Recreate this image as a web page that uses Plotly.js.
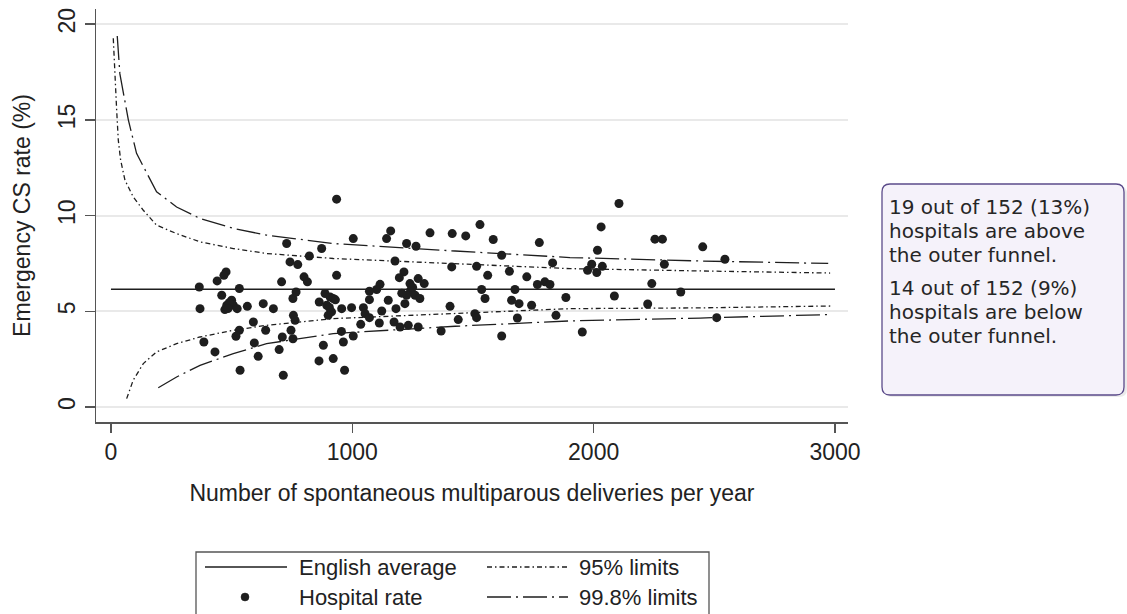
<!DOCTYPE html>
<html>
<head>
<meta charset="utf-8">
<script src="https://cdn.plot.ly/plotly-3.0.1.min.js"></script>
<style>
  html, body { margin: 0; padding: 0; background: #ffffff; }
  #chart { width: 1127px; height: 614px; }
</style>
</head>
<body>
<div id="chart"></div>
<script>
// ---------------- data ----------------
const hospitalX = [
  366, 369, 385, 431, 440, 477, 468, 459, 500, 480, 472, 507, 523, 532, 532, 518, 535, 565, 590, 594,
  610, 631, 641, 673, 697, 707, 710, 714, 728, 742, 774, 754, 767, 756, 763, 746, 754, 800, 814, 822,
  873, 863, 862, 880, 887, 908, 894, 900, 914, 921, 935, 935, 955, 921, 956,
  1004, 1159, 1142, 1225, 1264, 1177, 1214, 1195, 1273, 1239, 1115, 1101, 1071, 1242, 1225, 1260, 1280,
  1071, 1149, 1218, 997, 1046, 1122, 1181, 1053, 1071, 1112, 1035, 1173, 1198, 1232, 1273, 1004, 963, 968,
  1529, 1322, 1414, 1470, 1584, 1412, 1515, 1561, 1298, 1536, 1550, 1405, 1508, 1515, 1439, 1368,
  1775, 1619, 1830, 1651, 1723, 1767, 1798, 1819, 1674, 1660, 1691, 1743, 1885, 1684, 1844, 1619,
  2105, 2031, 2254, 2285, 2452, 2016, 2544, 2293, 1992, 2036, 1975, 2013, 2241, 2361, 2086, 2224, 2510, 1953,
  1250, 1205, 905, 930, 490, 485
];
const hospitalY = [
  6.27, 5.14, 3.40, 2.88, 6.59, 7.06, 6.88, 5.84, 5.58, 5.32, 5.09, 5.32, 5.14, 6.19, 4.01, 3.70, 1.92, 5.26, 4.44, 3.35,
  2.65, 5.40, 4.01, 5.14, 3.00, 6.54, 3.66, 1.66, 8.54, 7.58, 7.44, 5.67, 6.01, 4.79, 4.53, 4.01, 3.57, 6.80, 6.54, 7.89,
  8.28, 5.49, 2.41, 3.23, 5.93, 5.75, 5.32, 4.79, 4.97, 2.53, 10.86, 6.88, 3.95, 5.67, 5.14,
  8.80, 9.20, 8.80, 8.54, 8.40, 7.63, 7.06, 6.76, 6.71, 6.45, 6.41, 6.14, 6.05, 6.10, 5.84, 5.84, 5.67,
  5.61, 5.58, 5.40, 5.19, 5.19, 5.02, 5.14, 4.88, 4.67, 4.39, 4.32, 4.44, 4.18, 4.27, 4.18, 3.71, 3.40, 1.92,
  9.53, 9.10, 9.06, 8.94, 8.75, 7.32, 7.35, 6.88, 6.45, 6.14, 5.67, 5.26, 4.88, 4.67, 4.57, 3.97,
  8.59, 7.93, 7.53, 7.09, 6.80, 6.40, 6.54, 6.40, 6.14, 5.58, 5.40, 5.32, 5.72, 4.65, 4.79, 3.71,
  10.63, 9.41, 8.77, 8.77, 8.37, 8.19, 7.72, 7.46, 7.46, 7.35, 7.14, 7.03, 6.45, 6.01, 5.80, 5.38, 4.67, 3.92,
  6.25, 5.95, 5.20, 5.60, 5.45, 5.15
];

const averageX = [0, 3000];
const averageY = [6.15, 6.15];

const upper95X = [9.6, 16.6, 23.6, 30.4, 40, 58, 92, 134, 189, 272, 369, 507, 645, 921, 1426, 1902, 2441, 2980];
const upper95Y = [19.26, 16.9, 15.51, 13.94, 12.9, 11.85, 10.98, 10.28, 9.5, 9.06, 8.63, 8.28, 8.02, 7.76, 7.50, 7.23, 7.11, 7.0];
const lower95X = [65, 79, 92, 134, 189, 272, 369, 507, 645, 921, 1426, 1902, 2441, 2992];
const lower95Y = [0.44, 0.96, 1.4, 2.27, 2.88, 3.31, 3.66, 4.01, 4.27, 4.62, 4.88, 5.14, 5.18, 5.28];

const upper998X = [26, 37, 72, 106, 189, 272, 369, 507, 645, 921, 1426, 1902, 2441, 2972];
const upper998Y = [19.38, 17.4, 15.0, 13.25, 11.24, 10.45, 9.85, 9.33, 8.98, 8.54, 8.15, 7.81, 7.63, 7.5];
const lower998X = [196, 272, 369, 507, 645, 921, 1426, 1902, 2441, 2972];
const lower998Y = [1.01, 1.57, 2.18, 2.79, 3.31, 3.84, 4.22, 4.50, 4.65, 4.83];

const xTickVals = [0, 1000, 2000, 3000];
const yTickVals = [0, 5, 10, 15, 20];

const legendLabels = ['English average', 'Hospital rate', '95% limits', '99.8% limits'];
const noteAbove = ['19 out of 152 (13%)', 'hospitals are above', 'the outer funnel.'];
const noteBelow = ['14 out of 152 (9%)', 'hospitals are below', 'the outer funnel.'];
const xTitle = 'Number of spontaneous multiparous deliveries per year';
const yTitle = 'Emergency CS rate (%)';

// ---------------- layout helpers (pixel -> paper) ----------------
const W = 1127, H = 614;
const M = { l: 96, r: 279, t: 9, b: 192 };
const PW = W - M.l - M.r, PH = H - M.t - M.b;
const PX = px => (px - M.l) / PW;
const PY = py => (H - M.b - py) / PH;

const ink = '#1e1e1e';
const axisGray = '#555555';
const fontFam = '"Liberation Sans", Arial, Helvetica, sans-serif';
const noteFam = '"DejaVu Sans", Lato, sans-serif';
const dash95 = '5px,3px,1.5px,3px';
const dash998 = '24px,5px,2px,5px';

// join two limit curves into one trace with a gap
function joinCurves(ax, ay, bx, by) {
  return { x: ax.concat([null], bx), y: ay.concat([null], by) };
}
const c95 = joinCurves(upper95X, upper95Y, lower95X, lower95Y);
const c998 = joinCurves(upper998X, upper998Y, lower998X, lower998Y);

const traces = [
  { type: 'scatter', mode: 'lines', name: legendLabels[0], x: averageX, y: averageY,
    line: { color: ink, width: 1.5 }, showlegend: false, hoverinfo: 'skip' },
  { type: 'scatter', mode: 'lines', name: legendLabels[2], x: c95.x, y: c95.y, connectgaps: false,
    line: { color: ink, width: 1.3, dash: dash95 }, showlegend: false, hoverinfo: 'skip' },
  { type: 'scatter', mode: 'lines', name: legendLabels[3], x: c998.x, y: c998.y, connectgaps: false,
    line: { color: ink, width: 1.3, dash: dash998 }, showlegend: false, hoverinfo: 'skip' },
  { type: 'scatter', mode: 'markers', name: legendLabels[1], x: hospitalX, y: hospitalY,
    marker: { size: 9, color: ink }, showlegend: false }
];

// ---------------- shapes: legend frame & symbols, note box ----------------
function roundRectPath(x0, y0, x1, y1, r) {
  const p = (x, y) => PX(x) + ',' + PY(y);
  return 'M' + p(x0 + r, y0) + ' L' + p(x1 - r, y0) + ' Q' + p(x1, y0) + ' ' + p(x1, y0 + r) +
    ' L' + p(x1, y1 - r) + ' Q' + p(x1, y1) + ' ' + p(x1 - r, y1) +
    ' L' + p(x0 + r, y1) + ' Q' + p(x0, y1) + ' ' + p(x0, y1 - r) +
    ' L' + p(x0, y0 + r) + ' Q' + p(x0, y0) + ' ' + p(x0 + r, y0) + ' Z';
}
const pp = (x, y) => PX(x) + ',' + PY(y);

const legRow1 = 567, legRow2 = 597;
const shapes = [
  // note box shadow + box
  { type: 'path', xref: 'paper', yref: 'paper', path: roundRectPath(884, 186, 1127, 397, 8),
    fillcolor: 'rgba(0,0,0,0.08)', line: { width: 0 }, layer: 'below' },
  { type: 'path', xref: 'paper', yref: 'paper', path: roundRectPath(882, 184, 1124, 395, 8),
    fillcolor: '#f5f2fa', line: { color: '#5b4b8a', width: 1.3 } },
  // legend frame (bottom edge runs off the picture)
  { type: 'path', xref: 'paper', yref: 'paper',
    path: 'M' + pp(196, 616) + ' L' + pp(196, 552) + ' L' + pp(709, 552) + ' L' + pp(709, 616),
    line: { color: axisGray, width: 1.3 } },
  // legend symbols
  { type: 'line', xref: 'paper', yref: 'paper', x0: PX(205), x1: PX(287), y0: PY(legRow1), y1: PY(legRow1),
    line: { color: ink, width: 1.5 } },
  { type: 'circle', xref: 'paper', yref: 'paper', x0: PX(241), x1: PX(249), y0: PY(legRow2 + 4), y1: PY(legRow2 - 4),
    fillcolor: ink, line: { color: ink, width: 0.5 } },
  { type: 'line', xref: 'paper', yref: 'paper', x0: PX(487), x1: PX(568), y0: PY(legRow1), y1: PY(legRow1),
    line: { color: ink, width: 1.3, dash: dash95 } },
  { type: 'line', xref: 'paper', yref: 'paper', x0: PX(487), x1: PX(568), y0: PY(legRow2), y1: PY(legRow2),
    line: { color: ink, width: 1.3, dash: dash998 } }
];

const annotations = [];
const legendPos = [[298, legRow1], [298, legRow2], [578, legRow1], [578, legRow2]];
legendLabels.forEach((t, i) => {
  annotations.push({ xref: 'paper', yref: 'paper', x: PX(legendPos[i][0]), y: PY(legendPos[i][1]),
    xanchor: 'left', yanchor: 'middle', showarrow: false, text: t,
    font: { family: fontFam, size: 22, color: '#222' }, borderpad: 0 });
});
// note paragraphs: base size sets the line pitch, span sets the glyph size
const noteSpan = s => '<span style="font-size:20px">' + s + '</span>';
[[noteAbove, 231], [noteBelow, 312]].forEach(([lines, yc]) => {
  annotations.push({ xref: 'paper', yref: 'paper', x: PX(888), y: PY(yc),
    xanchor: 'left', yanchor: 'middle', align: 'left', showarrow: false,
    text: lines.map(noteSpan).join('<br>'),
    font: { family: noteFam, size: 18.5, color: '#262626' }, borderpad: 0 });
});

const layout = {
  width: W, height: H,
  margin: { l: M.l, r: M.r, t: M.t, b: M.b, pad: 0 },
  paper_bgcolor: '#ffffff', plot_bgcolor: '#ffffff',
  font: { family: fontFam, size: 23, color: '#222' },
  showlegend: false,
  xaxis: {
    range: [-62, 3054], tickvals: xTickVals, ticktext: xTickVals.map(String),
    ticks: 'outside', ticklen: 9, tickwidth: 1.3, tickcolor: axisGray,
    showline: true, linecolor: axisGray, linewidth: 1.5,
    showgrid: false, zeroline: false,
    tickfont: { family: fontFam, size: 23, color: '#222' },
    title: { text: xTitle, font: { family: fontFam, size: 23, color: '#222' }, standoff: 21 }
  },
  yaxis: {
    range: [-0.78, 20.79], tickvals: yTickVals, ticktext: yTickVals.map(String), tickangle: -90,
    ticks: 'outside', ticklen: 10, tickwidth: 1.3, tickcolor: axisGray,
    showline: true, linecolor: axisGray, linewidth: 1.5,
    showgrid: true, gridcolor: '#e9e9e9', gridwidth: 2, zeroline: false,
    tickfont: { family: fontFam, size: 23, color: '#222' },
    title: { text: yTitle, font: { family: fontFam, size: 23, color: '#222' }, standoff: 17 }
  },
  shapes: shapes,
  annotations: annotations
};

Plotly.newPlot('chart', traces, layout, { displayModeBar: false, staticPlot: true });
</script>
</body>
</html>
